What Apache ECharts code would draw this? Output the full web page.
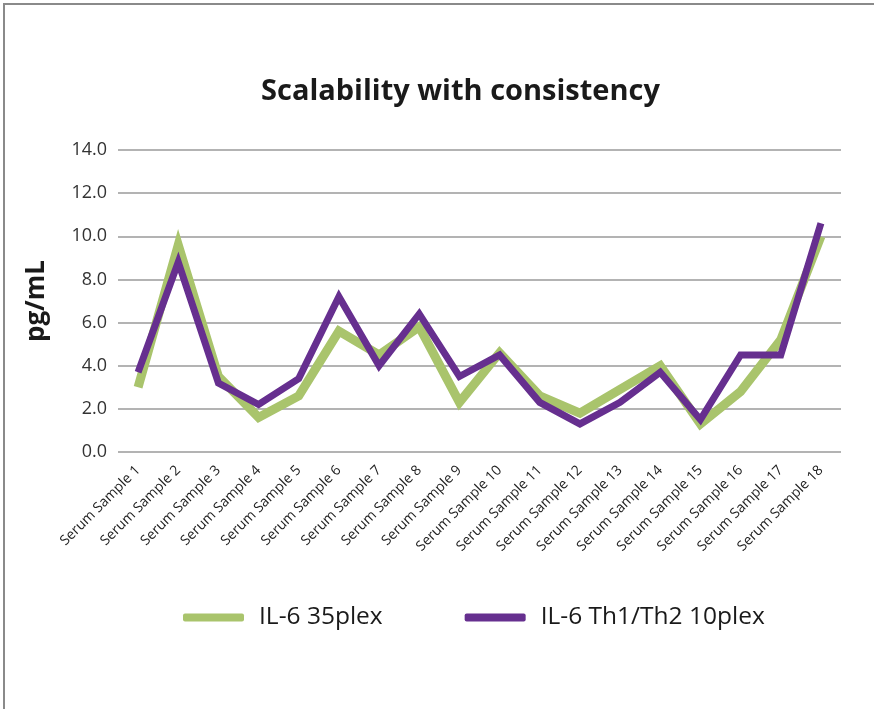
<!DOCTYPE html>
<html>
<head>
<meta charset="utf-8">
<script src="https://cdn.jsdelivr.net/npm/echarts@6/dist/echarts.min.js"></script>
<style>
  html, body { margin: 0; padding: 0; background: #fff; }
  .frame {
    position: absolute; left: 3px; top: 3px; width: 880px; height: 720px;
    border-left: 2px solid #8a8a8a; border-top: 2px solid #8a8a8a;
  }
  #chart { position: absolute; left: 0; top: 0; width: 874px; height: 709px; }
</style>
</head>
<body>
<div class="frame"></div>
<div id="chart"></div>
<script>
// 样本名称
const samples = [
  "Serum Sample 1", "Serum Sample 2", "Serum Sample 3", "Serum Sample 4",
  "Serum Sample 5", "Serum Sample 6", "Serum Sample 7", "Serum Sample 8",
  "Serum Sample 9", "Serum Sample 10", "Serum Sample 11", "Serum Sample 12",
  "Serum Sample 13", "Serum Sample 14", "Serum Sample 15", "Serum Sample 16",
  "Serum Sample 17", "Serum Sample 18"
];
// IL-6 35plex
const plex35 = [3.0, 9.6, 3.5, 1.6, 2.6, 5.6, 4.5, 5.8, 2.3, 4.6, 2.6, 1.8, 2.9, 4.0, 1.3, 2.8, 5.2, 10.0];
// IL-6 Th1/Th2 10plex
const plex10 = [3.7, 8.8, 3.2, 2.2, 3.4, 7.2, 4.0, 6.4, 3.5, 4.5, 2.3, 1.3, 2.3, 3.7, 1.5, 4.5, 4.5, 10.6];

const fontFam = '"Open Sans", "Noto Sans", sans-serif';

const myChart = echarts.init(document.getElementById("chart"));
const option = {
  animation: false,
  title: {
    text: "Scalability with consistency",
    left: 256,
    top: 72,
    textStyle: { fontFamily: fontFam, fontSize: 29, fontWeight: "bold", color: "#1a1a1a" }
  },
  legend: {
    top: 600,
    left: 178,
    itemWidth: 61,
    itemHeight: 8,
    itemGap: 82,
    icon: "roundRect",
    textStyle: { fontFamily: fontFam, fontSize: 24.5, color: "#1a1a1a", padding: [0, 0, 0, 10] },
    data: ["IL-6 35plex", "IL-6 Th1/Th2 10plex"]
  },
  grid: { left: 118, right: 33, top: 150, bottom: 257 },
  xAxis: {
    type: "category",
    data: samples,
    axisLine: { show: false },
    axisTick: { show: false },
    axisLabel: {
      rotate: 45,
      interval: 0,
      margin: 16,
      fontFamily: fontFam,
      fontSize: 14,
      color: "#222"
    }
  },
  yAxis: {
    type: "value",
    min: 0,
    max: 14,
    interval: 2,
    name: "pg/mL",
    nameLocation: "middle",
    nameGap: 68,
    nameTextStyle: { fontFamily: fontFam, fontSize: 26, fontWeight: "bold", color: "#1a1a1a" },
    axisLabel: {
      formatter: v => v.toFixed(1),
      fontFamily: fontFam,
      fontSize: 18,
      color: "#333",
      margin: 11
    },
    splitLine: { lineStyle: { color: "#9a9a9a", width: 1.5 } }
  },
  series: [
    {
      name: "IL-6 35plex",
      type: "line",
      data: plex35,
      symbol: "none",
      color: "#a9c46c",
      lineStyle: { width: 9, color: "#a9c46c", join: "miter" }
    },
    {
      name: "IL-6 Th1/Th2 10plex",
      type: "line",
      data: plex10,
      symbol: "none",
      color: "#662f8f",
      lineStyle: { width: 7, color: "#662f8f", join: "miter" }
    }
  ]
};
myChart.setOption(option);
</script>
</body>
</html>
